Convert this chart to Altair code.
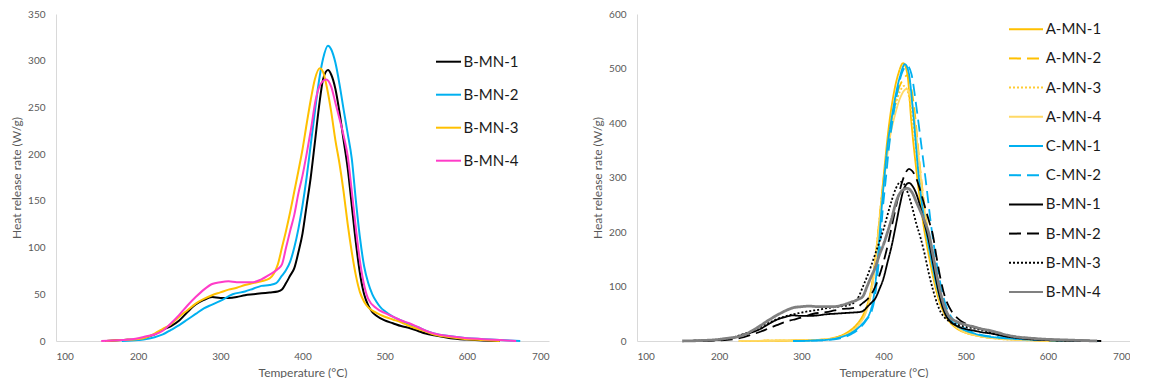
import altair as alt
import pandas as pd

FONT = "Lato"

# ---------------- data ----------------
X_TICKS = [100, 200, 300, 400, 500, 600, 700]
Y_TICKS_LEFT = [0, 50, 100, 150, 200, 250, 300, 350]
Y_TICKS_RIGHT = [0, 100, 200, 300, 400, 500, 600]

# B series (left panel, also drawn in right panel)
B1_T = [160, 180, 200, 210, 220, 230, 240, 250, 260, 270, 280, 290, 300, 310, 320, 330, 340, 350, 360, 370,
        375, 380, 385, 390, 395, 400, 405, 410, 415, 420, 425, 431, 435, 440, 445, 450, 455, 460, 465, 470,
        475, 480, 485, 490, 500, 510, 520, 530, 540, 550, 560, 580, 600, 620, 640]
B1_V = [0, 1, 2, 4, 7, 12, 16, 22, 31, 39, 44, 47, 46, 46, 47, 49, 50, 51, 52, 53,
        55, 62, 70, 78, 95, 115, 145, 175, 212, 250, 280, 290, 285, 270, 245, 215, 185, 145, 105, 72,
        50, 38, 31, 27, 22, 19, 16, 14, 11, 8, 6, 3, 1.5, 0.5, 0]

B2_T = [180, 200, 210, 220, 230, 240, 250, 260, 270, 280, 290, 300, 315, 330, 340, 350, 360, 368, 375, 380,
        385, 390, 395, 400, 405, 410, 415, 420, 425, 431, 435, 440, 445, 450, 455, 460, 465, 470, 475, 480,
        485, 490, 495, 500, 510, 520, 530, 540, 550, 560, 580, 600, 620, 640, 665]
B2_V = [0, 1, 2, 4, 7, 12, 17, 23, 29, 35, 39, 43, 50, 53, 56, 59, 60, 62, 70, 76,
        85, 100, 120, 145, 175, 210, 245, 278, 302, 316, 312, 298, 275, 248, 222, 195, 150, 110, 80, 62,
        50, 42, 36, 32, 26, 22, 18, 15, 11, 8, 5, 3, 2, 1, 0]

B3_T = [160, 180, 200, 210, 220, 230, 240, 250, 260, 270, 280, 290, 300, 310, 320, 330, 340, 350, 360, 365,
        370, 375, 380, 385, 390, 395, 400, 405, 410, 415, 421, 425, 430, 435, 440, 445, 450, 455, 460, 465,
        470, 475, 480, 490, 500, 510, 520, 530, 540, 550, 560, 580, 600, 620, 640]
B3_V = [0, 1, 2, 4, 8, 13, 18, 26, 33, 40, 45, 49, 52, 55, 57, 60, 62, 64, 67, 72,
        82, 100, 118, 138, 160, 182, 205, 232, 258, 280, 292, 288, 270, 245, 215, 190, 160, 125, 95, 70,
        52, 42, 36, 30, 26, 23, 20, 16, 13, 10, 7, 4, 2, 1, 0]

B4_T = [155, 180, 200, 210, 220, 230, 240, 250, 260, 270, 280, 290, 300, 310, 320, 330, 340, 350, 360, 370,
        375, 380, 385, 390, 395, 400, 405, 410, 416, 422, 429, 435, 440, 445, 450, 455, 460, 465, 470, 475,
        480, 490, 500, 510, 520, 530, 540, 550, 560, 580, 600, 620, 640, 660]
B4_V = [0, 1, 3, 5, 7, 11, 19, 28, 38, 47, 55, 61, 63, 64, 63, 63, 63, 66, 71, 77,
        82, 100, 118, 135, 158, 177, 200, 225, 258, 275, 280, 272, 255, 238, 220, 198, 160, 120, 85, 60,
        45, 35, 30, 26, 22, 19, 15, 11, 8, 5, 3, 2, 1, 0]

# A and C series (right panel)
A1_T = [224, 260, 290, 320, 340, 350, 360, 370, 376, 380, 385, 390, 395, 400, 407, 412, 418, 424, 429, 434,
        441, 450, 456, 463, 468, 474, 480, 490, 500, 510, 520, 540, 560, 580, 600, 630]
A1_V = [0, 0.5, 1, 2, 6, 11, 20, 35, 50, 65, 95, 150, 220, 300, 400, 450, 490, 510, 490, 400,
        300, 200, 150, 100, 72, 50, 36, 22, 15, 11, 8, 5, 3, 1.5, 0.5, 0]

A2_T = [224, 260, 300, 330, 350, 360, 370, 378, 383, 388, 393, 398, 403, 408, 413, 419, 425, 429, 433, 438,
        443, 448, 454, 460, 466, 472, 478, 486, 495, 505, 520, 540, 560, 590, 620]
A2_V = [0, 0.5, 1, 3, 10, 18, 32, 52, 75, 120, 190, 265, 330, 390, 430, 465, 482, 488, 470, 420,
        340, 270, 200, 140, 95, 62, 45, 30, 20, 14, 8, 5, 3, 1, 0]

A3_T = [224, 260, 300, 330, 350, 360, 370, 378, 383, 388, 393, 398, 403, 408, 414, 420, 425, 430, 436, 442,
        448, 454, 460, 466, 472, 478, 486, 495, 505, 520, 540, 560, 590, 620]
A3_V = [0, 0.5, 1, 3, 9, 17, 32, 52, 80, 125, 195, 270, 335, 390, 430, 458, 468, 455, 400, 320,
        245, 180, 125, 85, 58, 42, 28, 19, 13, 8, 4, 2, 1, 0]

A4_T = [224, 260, 300, 330, 350, 360, 370, 378, 383, 388, 393, 398, 403, 408, 414, 420, 428, 433, 438, 443,
        448, 454, 460, 466, 472, 478, 486, 495, 505, 520, 540, 560, 590, 620]
A4_V = [0, 0.5, 1, 3, 9, 16, 30, 50, 75, 118, 185, 258, 322, 375, 415, 445, 462, 450, 405, 335,
        265, 195, 138, 92, 62, 44, 29, 19, 13, 8, 4, 2, 1, 0]

C1_T = [290, 310, 330, 340, 350, 360, 370, 378, 383, 388, 393, 397, 401, 405, 409, 414, 420, 426, 431, 436,
        443, 452, 458, 465, 470, 475, 482, 490, 500, 510, 520, 540, 560, 580, 600, 630, 662]
C1_V = [0, 0.5, 2, 4, 8, 14, 25, 38, 50, 80, 150, 230, 300, 360, 400, 445, 485, 508, 490, 420,
        300, 200, 150, 100, 72, 52, 38, 27, 19, 14, 10, 6, 4, 2.5, 1.5, 0.5, 0]

C2_T = [290, 320, 340, 360, 370, 380, 385, 390, 395, 399, 403, 407, 411, 416, 422, 429, 434, 440, 446, 451,
        459, 465, 470, 476, 482, 490, 500, 510, 520, 540, 560, 580, 600, 630, 665]
C2_V = [0, 1, 3, 12, 22, 40, 52, 85, 160, 240, 300, 360, 405, 450, 490, 505, 490, 430, 360, 300,
        200, 140, 100, 65, 45, 32, 22, 15, 11, 7, 4, 2.5, 1.5, 0.5, 0]

# ---------------- series lists & styles ----------------
LEFT_NAMES = ["B-MN-1", "B-MN-2", "B-MN-3", "B-MN-4"]
LEFT_COLORS = ["#000000", "#00B0F0", "#FFC000", "#FF3CC8"]

RIGHT_NAMES = ["A-MN-1", "A-MN-2", "A-MN-3", "A-MN-4", "C-MN-1", "C-MN-2",
               "B-MN-1", "B-MN-2", "B-MN-3", "B-MN-4"]
RIGHT_COLORS = ["#FFC000", "#FFC000", "#FFCC33", "#FFD966", "#00B0F0", "#00B0F0",
                "#000000", "#000000", "#000000", "#808080"]
RIGHT_DASH = [[1, 0], [12, 6], [2, 2], [1, 0], [1, 0], [12, 6],
              [1, 0], [12, 6], [2, 2], [1, 0]]
RIGHT_WIDTH = [1.8, 1.8, 1.8, 1.8, 1.8, 1.8, 1.8, 1.8, 1.8, 2.8]

SERIES = {
    "B-MN-1": (B1_T, B1_V), "B-MN-2": (B2_T, B2_V), "B-MN-3": (B3_T, B3_V), "B-MN-4": (B4_T, B4_V),
    "A-MN-1": (A1_T, A1_V), "A-MN-2": (A2_T, A2_V), "A-MN-3": (A3_T, A3_V), "A-MN-4": (A4_T, A4_V),
    "C-MN-1": (C1_T, C1_V), "C-MN-2": (C2_T, C2_V),
}


def table(names, widths=None):
    rows = []
    for i, n in enumerate(names):
        ts, vs = SERIES[n]
        for t, v in zip(ts, vs):
            r = {"series": n, "T": t, "HRR": v}
            if widths is not None:
                r["w"] = widths[i]
            rows.append(r)
    return pd.DataFrame(rows)


df_left = table(LEFT_NAMES)
df_right = table(RIGHT_NAMES, RIGHT_WIDTH)

PLOT_W, PLOT_H = 493, 327


def x_enc():
    return alt.X("T:Q", scale=alt.Scale(domain=[100, 700], nice=False),
                 axis=alt.Axis(values=X_TICKS, title="Temperature (°C)"))


left_legend = alt.Legend(title=None, orient="none", legendX=381.5, legendY=36.7,
                         symbolType="M-1.25,0H1.25", symbolSize=400, symbolStrokeWidth=2,
                         rowPadding=14, labelOffset=4, padding=0,
                         labelFontSize=15, labelFont=FONT, labelColor="#1a1a1a")

left = alt.Chart(df_left).mark_line(strokeWidth=2, interpolate="monotone").encode(
    x=x_enc(),
    y=alt.Y("HRR:Q", scale=alt.Scale(domain=[0, 350], nice=False),
            axis=alt.Axis(values=Y_TICKS_LEFT, title="Heat release rate (W/g)")),
    color=alt.Color("series:N", scale=alt.Scale(domain=LEFT_NAMES, range=LEFT_COLORS),
                    legend=left_legend),
).properties(width=PLOT_W, height=PLOT_H)

right_legend = alt.Legend(title=None, orient="none", legendX=378, legendY=4.2,
                          symbolType="M-1.7,0H1.7", symbolSize=400, symbolStrokeWidth=2,
                          rowPadding=10.2, labelOffset=8.7, padding=0,
                          labelFontSize=15, labelFont=FONT, labelColor="#1a1a1a")

right = alt.Chart(df_right).mark_line(interpolate="monotone").encode(
    x=x_enc(),
    y=alt.Y("HRR:Q", scale=alt.Scale(domain=[0, 600], nice=False),
            axis=alt.Axis(values=Y_TICKS_RIGHT, title="Heat release rate (W/g)")),
    color=alt.Color("series:N", scale=alt.Scale(domain=RIGHT_NAMES, range=RIGHT_COLORS),
                    legend=right_legend),
    strokeDash=alt.StrokeDash("series:N", scale=alt.Scale(domain=RIGHT_NAMES, range=RIGHT_DASH),
                              legend=right_legend),
    strokeWidth=alt.StrokeWidth("w:Q", scale=None, legend=None),
).properties(width=PLOT_W, height=PLOT_H)

chart = alt.hconcat(left, right, spacing=42).resolve_scale(
    color="independent", strokeDash="independent", x="independent", y="independent"
).resolve_legend(color="independent", strokeDash="independent").properties(
    padding={"left": 10, "top": 9, "right": 0, "bottom": 0},
    background="white",
).configure_view(stroke=None).configure_axis(
    grid=False, ticks=False, domainColor="#D9D9D9", domainWidth=1,
    labelColor="#595959", labelFont=FONT, labelFontSize=10,
    titleColor="#595959", titleFont=FONT, titleFontSize=12, titleFontWeight="normal",
).configure_axisY(labelPadding=11, titlePadding=4).configure_axisX(labelPadding=10, titlePadding=6)

chart.save("out.html", embed_options={"renderer": "svg", "actions": False})
